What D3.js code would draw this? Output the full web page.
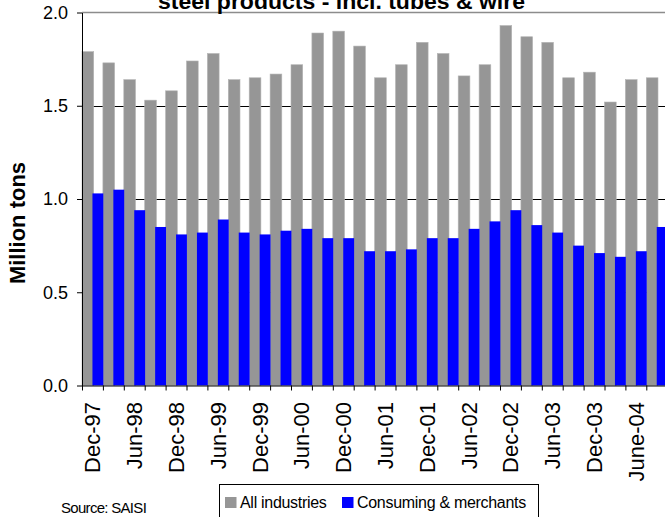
<!DOCTYPE html>
<html>
<head>
<meta charset="utf-8">
<script src="https://cdn.jsdelivr.net/npm/d3@7"></script>
<style>
  body { margin: 0; background: #fff; }
  svg { display: block; font-family: Arial, "Liberation Sans", sans-serif; }
</style>
</head>
<body>
<div id="chart"></div>
<script>
// quarterly, Dec-97 .. Sep-04 (only every second one labelled)
const categories = ["Dec-97","Mar-98","Jun-98","Sep-98","Dec-98","Mar-99","Jun-99","Sep-99",
  "Dec-99","Mar-00","Jun-00","Sep-00","Dec-00","Mar-01","Jun-01","Sep-01",
  "Dec-01","Mar-02","Jun-02","Sep-02","Dec-02","Mar-03","Jun-03","Sep-03",
  "Dec-03","Mar-04","June-04","Sep-04"];

const allIndustries = [1.79,1.73,1.64,1.53,1.58,1.74,1.78,1.64,
  1.65,1.67,1.72,1.89,1.90,1.82,1.65,1.72,
  1.84,1.78,1.66,1.72,1.93,1.87,1.84,1.65,
  1.68,1.52,1.64,1.65];

const consuming = [1.03,1.05,0.94,0.85,0.81,0.82,0.89,0.82,
  0.81,0.83,0.84,0.79,0.79,0.72,0.72,0.73,
  0.79,0.79,0.84,0.88,0.94,0.86,0.82,0.75,
  0.71,0.69,0.72,0.85];

const yTicks = [0, 0.5, 1.0, 1.5, 2.0];
const seriesNames = ["All industries", "Consuming & merchants"];

const width = 665, height = 517;
const margin = { left: 82, top: 12.5, bottom: 385.5 };
const step = 20.9;

const svg = d3.select("#chart").append("svg")
  .attr("width", width)
  .attr("height", height);

const x = d3.scaleBand()
  .domain(categories)
  .range([margin.left, margin.left + step * categories.length])
  .paddingInner(0).paddingOuter(0);

const xIdx = d3.scaleLinear()
  .domain([0, categories.length])
  .range([margin.left, margin.left + step * categories.length]);

const y = d3.scaleLinear()
  .domain([0, 2])
  .range([margin.bottom, margin.top]);

const color = d3.scaleOrdinal().domain(seriesNames).range(["#969696", "#0000ff"]);

// gridlines (behind bars)
svg.append("g")
  .selectAll("line")
  .data(yTicks.filter(d => d > 0 && d < 2))
  .enter()
  .append("line")
  .attr("x1", margin.left).attr("x2", width)
  .attr("y1", d => Math.round(y(d)) + 0.5)
  .attr("y2", d => Math.round(y(d)) + 0.5)
  .attr("stroke", "#000")
  .attr("stroke-width", 1);

// top border of plot area
svg.append("line")
  .attr("x1", margin.left).attr("x2", width)
  .attr("y1", y(2)).attr("y2", y(2))
  .attr("stroke", "#8c8c8c")
  .attr("stroke-width", 1.5);

const bw = x.bandwidth();

svg.append("g")
  .selectAll("rect")
  .data(allIndustries)
  .enter()
  .append("rect")
  .attr("x", (d, i) => x(categories[i]))
  .attr("y", d => y(d))
  .attr("width", bw * 0.56)
  .attr("height", d => y(0) - y(d))
  .attr("fill", color(seriesNames[0]))
  .attr("stroke", "#b4b4b4")
  .attr("stroke-width", 0.6);

svg.append("g")
  .selectAll("rect")
  .data(consuming)
  .enter()
  .append("rect")
  .attr("x", (d, i) => x(categories[i]) + bw * 0.5)
  .attr("y", d => y(d))
  .attr("width", bw * 0.52)
  .attr("height", d => y(0) - y(d))
  .attr("fill", color(seriesNames[1]));

// y axis
const yAxis = svg.append("g")
  .attr("transform", `translate(${margin.left},0)`)
  .call(d3.axisLeft(y).tickValues(yTicks).tickFormat(d3.format(".1f"))
    .tickSize(5).tickSizeOuter(0).tickPadding(9));
yAxis.select(".domain").attr("stroke", "#000");
yAxis.selectAll("text")
  .attr("font-size", "18px")
  .attr("fill", "#000")
  .attr("font-family", "Arial, 'Liberation Sans', sans-serif");

// x axis: ticks at band boundaries
svg.append("g")
  .attr("transform", `translate(0,${margin.bottom})`)
  .call(d3.axisBottom(xIdx).tickValues(d3.range(categories.length + 1))
    .tickFormat("").tickSize(5).tickSizeOuter(0))
  .select(".domain").attr("stroke", "#000");

// x labels, every second quarter
const xLab = svg.append("g")
  .attr("transform", `translate(0,${margin.bottom})`)
  .call(d3.axisBottom(x).tickValues(categories.filter((d, i) => i % 2 === 0)).tickSize(0));
xLab.select(".domain").remove();
xLab.selectAll("text")
  .attr("transform", "rotate(-90)")
  .attr("x", -16.5)
  .attr("y", 0)
  .attr("dy", "0.36em")
  .attr("text-anchor", "end")
  .attr("font-size", "22px")
  .attr("fill", "#000")
  .attr("font-family", "Arial, 'Liberation Sans', sans-serif");

// title (cut off at the top, as in the source image)
svg.append("text")
  .attr("x", 341.5)
  .attr("y", 9)
  .attr("text-anchor", "middle")
  .attr("font-size", "22px")
  .attr("font-weight", "bold")
  .attr("textLength", 367)
  .attr("lengthAdjust", "spacingAndGlyphs")
  .text("steel products - incl. tubes & wire");

svg.append("text")
  .attr("transform", "translate(25,223) rotate(-90)")
  .attr("text-anchor", "middle")
  .attr("font-size", "22px")
  .attr("font-weight", "bold")
  .text("Million tons");

svg.append("text")
  .attr("x", 61)
  .attr("y", 513)
  .attr("font-size", "15px")
  .attr("letter-spacing", "-0.7px")
  .text("Source: SAISI");

// legend
const legend = svg.append("g");
legend.append("rect")
  .attr("x", 219.5).attr("y", 484.5)
  .attr("width", 319).attr("height", 40)
  .attr("fill", "#fff")
  .attr("stroke", "#000");

const legendX = [225, 342];
seriesNames.forEach((name, i) => {
  const item = legend.append("g").attr("transform", `translate(${legendX[i]},497)`);
  item.append("rect")
    .attr("width", 11.5).attr("height", 11)
    .attr("fill", color(name));
  item.append("text")
    .attr("x", 15)
    .attr("y", 10.5)
    .attr("font-size", "16px")
    .attr("letter-spacing", "-0.3px")
    .text(name);
});
</script>
</body>
</html>
